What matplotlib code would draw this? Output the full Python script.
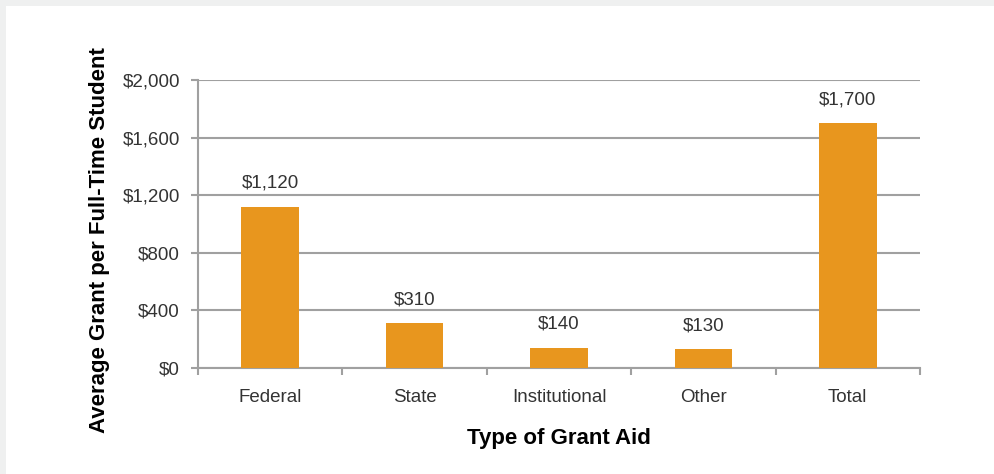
import matplotlib
matplotlib.use('Agg')
import matplotlib.pyplot as plt
from matplotlib.patches import Rectangle
import numpy as np

# data
categories = ['Federal', 'State', 'Institutional', 'Other', 'Total']
grants = [1120, 310, 140, 130, 1700]
yticks = [0, 400, 800, 1200, 1600, 2000]

plt.rcParams['font.family'] = ['Liberation Sans', 'DejaVu Sans']

fig = plt.figure(figsize=(9.94, 4.74), dpi=100)
fig.patch.set_facecolor('#eff0f0')
# white panel, gray strip on top and left
fig.patches.append(Rectangle((6/994, 0), 1, (474-6)/474, transform=fig.transFigure,
                             facecolor='white', edgecolor='none', zorder=-1))

ax = fig.add_axes([198/994, (474-368)/474, (920-198)/994, (368-80)/474])
ax.set_facecolor('white')

x = np.arange(len(categories))
ax.bar(x, grants, width=0.4, color='#e8961e', zorder=3)
for xi, v in zip(x, grants):
    ax.annotate('${:,}'.format(v), (xi, v), xytext=(0, 17), textcoords='offset points',
                ha='center', va='center', fontsize=13.5, color='#333333')

ax.set_xlim(-0.5, len(categories) - 0.5)
ax.set_ylim(0, 2000)
ax.set_yticks(yticks)
ax.set_yticklabels(['${:,}'.format(t) for t in yticks], fontsize=13.5, color='#333333')
ax.yaxis.grid(True, color='#a0a0a0', linewidth=1.5, zorder=0)

ax.set_xticks(x)
ax.set_xticklabels(categories, fontsize=13.5, color='#333333')
ax.tick_params(axis='x', length=0, pad=15)
ax.set_xticks(np.arange(len(categories) + 1) - 0.5, minor=True)
ax.tick_params(axis='x', which='minor', length=5, color='#a0a0a0', width=1.5)
ax.tick_params(axis='y', length=5, color='#a0a0a0', width=1.5, pad=8)

for s in ['top', 'right']:
    ax.spines[s].set_visible(False)
for s in ['left', 'bottom']:
    ax.spines[s].set_color('#a0a0a0')
    ax.spines[s].set_linewidth(1.5)

ax.set_xlabel('Type of Grant Aid', fontsize=16, fontweight='bold', labelpad=16)
ax.set_ylabel('Average Grant per Full-Time Student', fontsize=16, fontweight='bold')
ax.yaxis.set_label_coords(-0.122, 0.444)

fig.savefig('out.png', dpi=100, facecolor=fig.get_facecolor())
